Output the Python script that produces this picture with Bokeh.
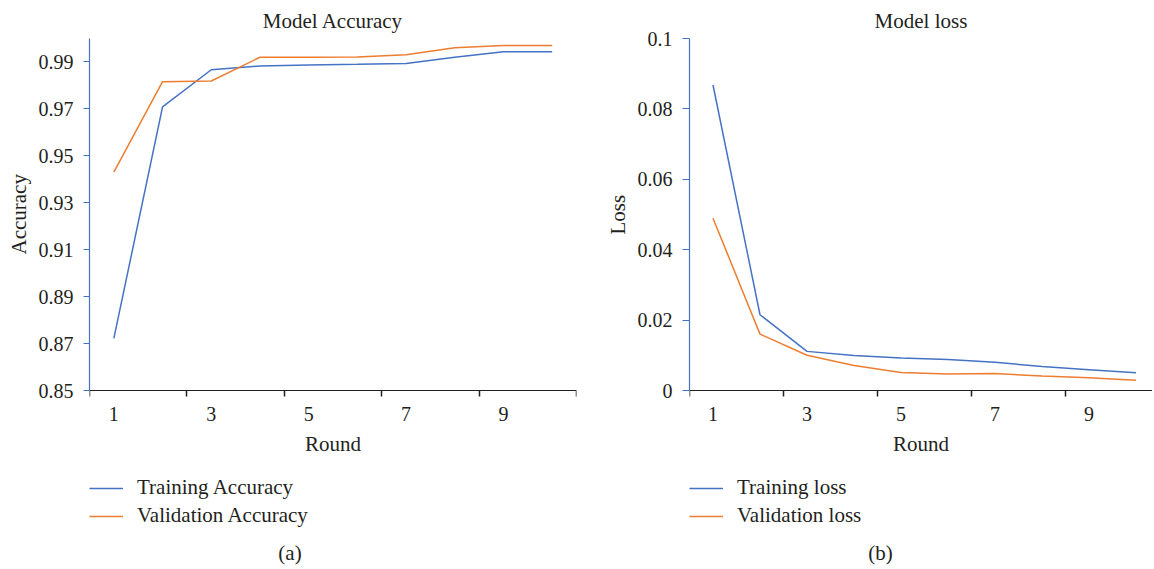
from bokeh.plotting import figure
from bokeh.models import Range1d, FixedTicker, Legend, LegendItem, Label, Title
from bokeh.layouts import row
from bokeh.embed import file_html
from bokeh.resources import INLINE

# ---------------- data ----------------
rounds = [1, 2, 3, 4, 5, 6, 7, 8, 9, 10]
train_acc = [0.8723, 0.9709, 0.9867, 0.9883, 0.9887, 0.9890, 0.9894, 0.9920, 0.9944, 0.9944]
val_acc = [0.9431, 0.9816, 0.9819, 0.9920, 0.9920, 0.9921, 0.9931, 0.9961, 0.9970, 0.9970]
train_loss = [0.0868, 0.0216, 0.0112, 0.0100, 0.0093, 0.0089, 0.0081, 0.0069, 0.0060, 0.0051]
val_loss = [0.0490, 0.0161, 0.0101, 0.0072, 0.0052, 0.0048, 0.0049, 0.0042, 0.0037, 0.0030]

x_label_ticks = [1, 3, 5, 7, 9]
x_bound_ticks = [0.5, 2.5, 4.5, 6.5, 8.5, 10.5]
acc_ticks = [0.85, 0.87, 0.89, 0.91, 0.93, 0.95, 0.97, 0.99]
acc_labels = ["0.85", "0.87", "0.89", "0.91", "0.93", "0.95", "0.97", "0.99"]
loss_ticks = [0.0, 0.02, 0.04, 0.06, 0.08, 0.1]
loss_labels = ["0", "0.02", "0.04", "0.06", "0.08", "0.1"]

TEXT = "#231F20"
BLUE = "#4472C4"
ORANGE = "#ED7D31"
FONT = "Liberation Serif"
FS = "21px"       # titles, axis titles, legend, captions
TFS = "20px"      # tick labels
H = 567
TOP = 37          # frame top (px)
AXIS_Y = 390      # x-axis line (px)
BELOW = H - AXIS_Y  # space under the x-axis inside the frame


def panel(title, ylabel, tr, va, tr_lbl, va_lbl, y0, y1, yticks, ylabels,
          width, bl, br, xend, ylab_offset, tick_out, caption, caption_x):
    span = (y1 - y0) / (AXIS_Y - TOP)
    p = figure(width=width, height=H, x_range=Range1d(0.5, xend),
               y_range=Range1d(y0 - BELOW * span, y1), output_backend="svg",
               toolbar_location=None, min_border_left=bl, min_border_right=br,
               min_border_top=TOP, min_border_bottom=0, title=title)
    p.outline_line_color = None
    p.grid.visible = False
    p.background_fill_color = "white"
    p.border_fill_color = "white"

    p.title.align = "center"
    p.title.text_font = FONT
    p.title.text_font_size = FS
    p.title.text_font_style = "normal"
    p.title.text_color = TEXT
    p.title.standoff = 12

    r1 = p.line(rounds, tr, line_color=BLUE, line_width=1.5)
    r2 = p.line(rounds, va, line_color=ORANGE, line_width=1.5)

    xa = p.xaxis[0]
    xa.fixed_location = y0
    xa.ticker = FixedTicker(ticks=x_label_ticks, minor_ticks=x_bound_ticks)
    xa.major_tick_out = 0
    xa.major_tick_in = 0
    xa.major_tick_line_color = None
    xa.minor_tick_out = 6
    xa.minor_tick_in = 0
    xa.minor_tick_line_color = TEXT
    xa.minor_tick_line_width = 1.5
    xa.axis_line_color = TEXT
    xa.axis_line_width = 1.2
    xa.major_label_standoff = 10
    xa.major_label_text_font = FONT
    xa.major_label_text_font_size = TFS
    xa.major_label_text_color = TEXT
    xa.axis_label = "Round"
    xa.axis_label_standoff = 8
    xa.axis_label_text_font = FONT
    xa.axis_label_text_font_size = FS
    xa.axis_label_text_font_style = "normal"
    xa.axis_label_text_color = TEXT

    ya = p.yaxis[0]
    ya.bounds = (y0, y1)
    ya.ticker = FixedTicker(ticks=yticks, minor_ticks=[])
    ya.major_label_overrides = dict(zip(yticks, ylabels))
    ya.axis_line_color = BLUE
    ya.axis_line_width = 1.2
    ya.major_tick_line_color = BLUE
    ya.major_tick_line_width = 1.2
    ya.major_tick_out = tick_out
    ya.major_tick_in = 0
    ya.minor_tick_line_color = None
    ya.major_label_standoff = 10
    ya.major_label_text_font = FONT
    ya.major_label_text_font_size = TFS
    ya.major_label_text_color = TEXT

    ytitle = Title(text=ylabel, align="left", offset=ylab_offset,
                   vertical_align="top", standoff=6,
                   text_font=FONT, text_font_size=FS,
                   text_font_style="normal", text_color=TEXT)
    p.add_layout(ytitle, "left")

    legend = Legend(items=[LegendItem(label=tr_lbl, renderers=[r1]),
                           LegendItem(label=va_lbl, renderers=[r2])],
                    location=(0, 39), orientation="vertical",
                    padding=0, margin=0, spacing=3,
                    glyph_width=34, glyph_height=24, label_height=24,
                    label_standoff=14, label_text_font=FONT,
                    label_text_font_size=FS, label_text_color=TEXT,
                    border_line_color=None, background_fill_alpha=0)
    p.add_layout(legend, "center")

    cap = Label(x=caption_x, y=15, x_units="screen", y_units="screen",
                text=caption, text_align="center", text_baseline="middle",
                text_font=FONT, text_font_size=FS, text_color=TEXT)
    p.add_layout(cap)
    return p


p1 = panel("Model Accuracy", "Accuracy", train_acc, val_acc,
           "Training Accuracy", "Validation Accuracy",
           0.85, 1.0, acc_ticks, acc_labels,
           width=600, bl=89, br=24, xend=10.5, ylab_offset=313, tick_out=6,
           caption="(a)", caption_x=200.5)

p2 = panel("Model loss", "Loss", train_loss, val_loss,
           "Training loss", "Validation loss",
           0.0, 0.1, loss_ticks, loss_labels,
           width=552, bl=89, br=0, xend=0.5 + 463 / 47, ylab_offset=333, tick_out=7,
           caption="(b)", caption_x=191)

layout = row(p1, p2)
open("out.html", "w").write(file_html(layout, INLINE))
